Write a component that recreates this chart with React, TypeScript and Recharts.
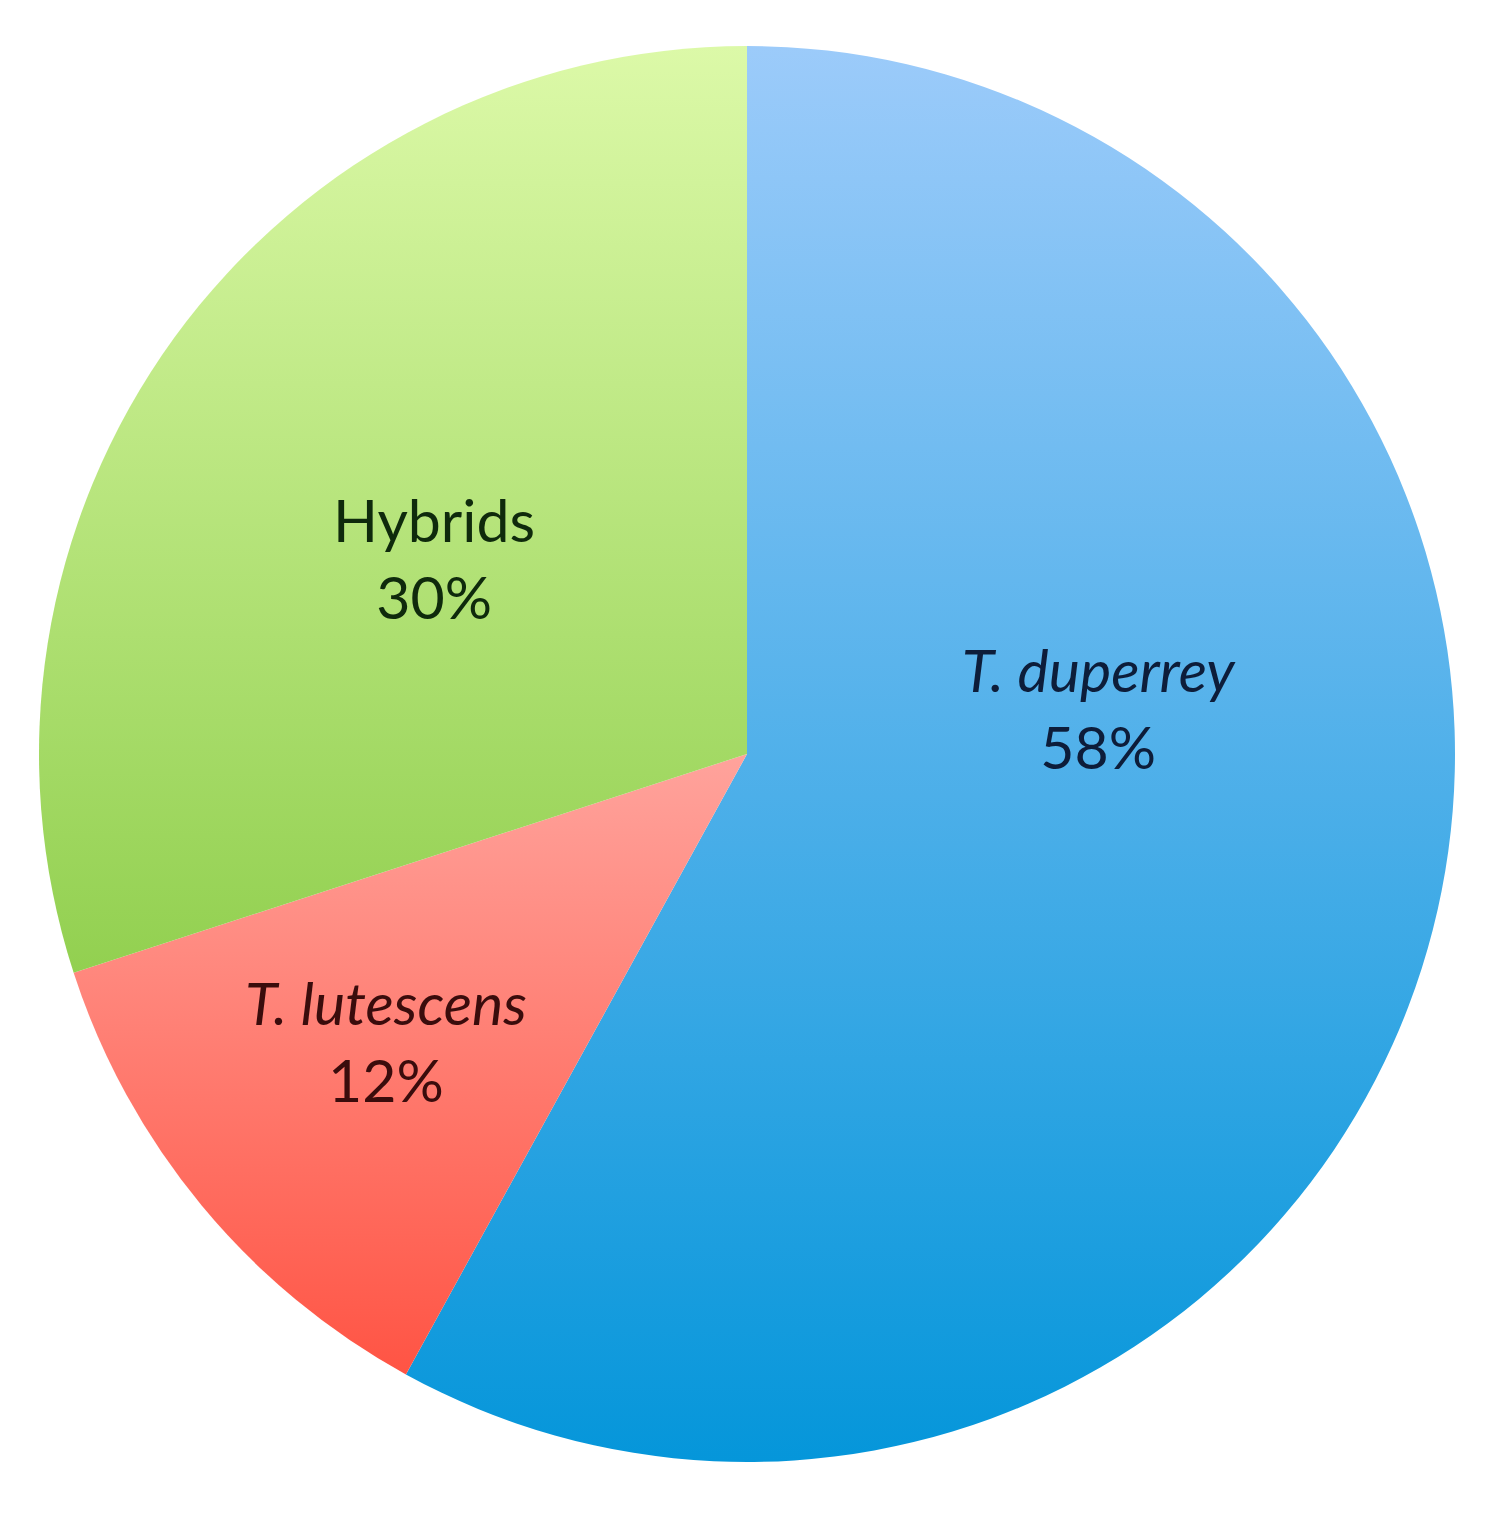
import React from 'react';
import { PieChart, Pie, Cell } from 'recharts';

// slice order clockwise from 12 o'clock
const species = ['T. duperrey', 'T. lutescens', 'Hybrids'];
const shares = [58, 12, 30];
const italic = [true, true, false];

const data = species.map((name, i) => ({ name, value: shares[i] }));

// gradient stops per slice (top -> bottom)
const fills = [
  { id: 'gBlue', top: '#9ccbfa', bottom: '#0596da', text: '#0d1d3a' },
  { id: 'gRed', top: '#ffa39c', bottom: '#ff5444', text: '#3a0c0c' },
  { id: 'gGreen', top: '#dcf9a8', bottom: '#92d050', text: '#0f2a0c' },
];

// label centre as fraction of radius from pie centre
const labelPos = [
  { x: 0.496, y: -0.061 },
  { x: -0.51, y: 0.41 },
  { x: -0.442, y: -0.273 },
];

const renderLabel = (props: any) => {
  const { cx, cy, outerRadius, index, name, value } = props;
  const p = labelPos[index];
  const x = cx + p.x * outerRadius;
  const y = cy + p.y * outerRadius;
  return (
    <text
      x={x}
      y={y}
      textAnchor="middle"
      fill={fills[index].text}
      fontFamily="Lato, 'Open Sans', sans-serif"
      fontSize={59}
    >
      <tspan x={x} y={y - 19} fontStyle={italic[index] ? 'italic' : 'normal'}>{name}</tspan>
      <tspan x={x} y={y + 58} fontStyle="normal">{value}%</tspan>
    </text>
  );
};

const App: React.FC = () => {
  return (
    <div style={{ width: 1474, height: 1500, background: '#fff' }}>
      <PieChart width={1474} height={1500}>
        <defs>
          {fills.map(f => (
            <linearGradient key={f.id} id={f.id} x1="0" y1="0" x2="0" y2="1">
              <stop offset="0%" stopColor={f.top} />
              <stop offset="100%" stopColor={f.bottom} />
            </linearGradient>
          ))}
        </defs>
        <Pie
          data={data}
          dataKey="value"
          nameKey="name"
          cx={734}
          cy={741}
          outerRadius={708}
          startAngle={90}
          endAngle={-270}
          stroke="none"
          labelLine={false}
          label={renderLabel}
          isAnimationActive={false}
        >
          {data.map((d, i) => (
            <Cell key={d.name} fill={`url(#${fills[i].id})`} />
          ))}
        </Pie>
      </PieChart>
    </div>
  );
};

export default App;
